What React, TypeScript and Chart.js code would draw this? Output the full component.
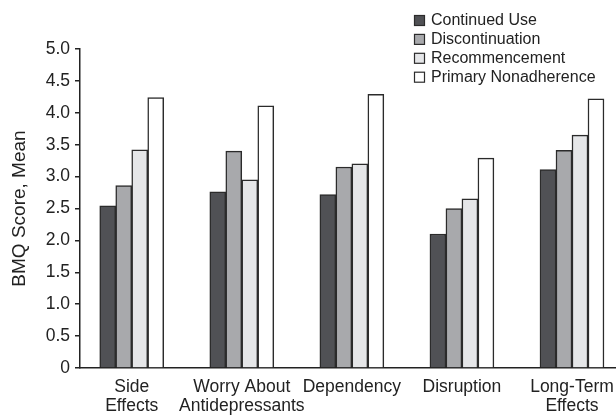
import { useEffect, useRef } from 'react';
import { Chart, registerables } from 'chart.js';

Chart.register(...registerables);

// ---- data ----
const categories: string[][] = [
  ['Side', 'Effects'],
  ['Worry About', 'Antidepressants'],
  ['Dependency'],
  ['Disruption'],
  ['Long-Term', 'Effects'],
];
const seriesNames = ['Continued Use', 'Discontinuation', 'Recommencement', 'Primary Nonadherence'];
const continuedUse = [2.54, 2.76, 2.72, 2.1, 3.11];
const discontinuation = [2.86, 3.4, 3.15, 2.5, 3.41];
const recommencement = [3.42, 2.95, 3.2, 2.65, 3.65];
const primaryNonadherence = [4.24, 4.11, 4.29, 3.29, 4.22];
const yTickValues = [0, 0.5, 1, 1.5, 2, 2.5, 3, 3.5, 4, 4.5, 5];
const yTickLabels = ['0', '0.5', '1.0', '1.5', '2.0', '2.5', '3.0', '3.5', '4.0', '4.5', '5.0'];
const yTitle = 'BMQ Score, Mean';

const seriesValues = [continuedUse, discontinuation, recommencement, primaryNonadherence];
const seriesColors = ['#505155', '#a8a9ac', '#e5e6e8', '#ffffff'];

const FONT = '"Liberation Sans", Arial, Helvetica, sans-serif';
const INK = '#222222';

const legendPlugin = {
  id: 'boxLegend',
  afterDraw(chart: any) {
    const ctx = chart.ctx;
    ctx.save();
    ctx.font = `16px ${FONT}`;
    ctx.textBaseline = 'middle';
    ctx.textAlign = 'left';
    chart.data.datasets.forEach((ds: any, i: number) => {
      const y = 20.5 + i * 18.9;
      ctx.fillStyle = ds.backgroundColor;
      ctx.fillRect(414.5, y - 5, 10, 10);
      ctx.strokeStyle = '#2b2b2b';
      ctx.lineWidth = 1.2;
      ctx.strokeRect(414.5, y - 5, 10, 10);
      ctx.fillStyle = INK;
      ctx.fillText(ds.label, 431, y + 0.5);
    });
    ctx.restore();
  },
};

export default function App() {
  const canvasRef = useRef<HTMLCanvasElement | null>(null);

  useEffect(() => {
    document.body.style.margin = '0';
    const canvas = canvasRef.current;
    if (!canvas) return;
    Chart.defaults.font.family = FONT;
    Chart.defaults.color = INK;

    const chart = new Chart(canvas, {
      type: 'bar',
      data: {
        datasets: seriesNames.map((name, s) => ({
          label: name,
          data: seriesValues[s].map((v, i) => ({ x: i, y: v })),
          backgroundColor: seriesColors[s],
          borderColor: '#2b2b2b',
          borderWidth: 1.5,
          barThickness: 16,
        })),
      },
      options: {
        animation: false,
        responsive: true,
        maintainAspectRatio: false,
        layout: { padding: { top: 49, right: 0, bottom: 0, left: 0 } },
        plugins: {
          legend: { display: false },
          tooltip: { enabled: false },
        },
        scales: {
          x: {
            type: 'linear',
            offset: false,
            min: -0.47,
            max: 4.4,
            grid: { display: false, drawTicks: false },
            border: { display: true, color: INK, width: 1.5 },
            afterBuildTicks: (scale: any) => {
              scale.ticks = categories.map((_, i) => ({ value: i }));
            },
            afterFit: (scale: any) => {
              scale.height = 47;
              scale.paddingLeft = 0;
              scale.paddingRight = 0;
            },
            ticks: {
              autoSkip: false,
              maxRotation: 0,
              minRotation: 0,
              padding: 9,
              color: INK,
              font: { size: 17.5, lineHeight: 1.12 },
              callback: (value: any) => categories[Math.round(Number(value))] ?? '',
            },
          },
          y: {
            type: 'linear',
            min: 0,
            max: 5,
            afterBuildTicks: (scale: any) => {
              scale.ticks = yTickValues.map((v) => ({ value: v }));
            },
            afterFit: (scale: any) => {
              scale.width = 80;
            },
            grid: {
              display: true,
              drawOnChartArea: false,
              drawTicks: true,
              tickLength: 5,
              color: INK,
              lineWidth: 1.5,
            },
            border: { display: true, color: INK, width: 1.5 },
            ticks: {
              padding: 5,
              color: INK,
              font: { size: 17.5 },
              callback: (value: any) => {
                const idx = yTickValues.indexOf(Number(value));
                return idx >= 0 ? yTickLabels[idx] : '';
              },
            },
            title: {
              display: true,
              text: yTitle,
              color: INK,
              font: { size: 19 },
              padding: { top: 8, bottom: 0 },
            },
          },
        },
      },
      plugins: [legendPlugin],
    } as any);

    return () => chart.destroy();
  }, []);

  return (
    <div style={{ width: 616, height: 415, position: 'relative' }}>
      <canvas ref={canvasRef} />
    </div>
  );
}
